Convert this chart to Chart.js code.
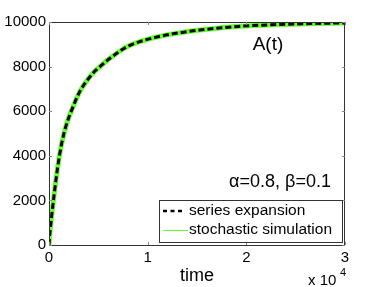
<!DOCTYPE html>
<html>
<head>
<meta charset="utf-8">
<script src="https://cdn.jsdelivr.net/npm/chart.js@4"></script>
<style>
  html, body { margin: 0; padding: 0; background: #fff; }
  #wrap { width: 381px; height: 287px; }
</style>
</head>
<body>
<div id="wrap"><canvas id="myChart" width="381" height="287"></canvas></div>
<script>
// time in units of 1e4
const timeVals = [0, 0.005, 0.012, 0.027, 0.053, 0.088, 0.128, 0.179, 0.23, 0.314, 0.398, 0.466, 0.517, 0.585, 0.635, 0.72, 0.804, 0.92, 1.125, 1.33, 1.53, 1.70, 1.94, 2.27, 2.61, 3.0];
// A(t)
const seriesVals = [0, 320, 650, 1300, 2300, 3490, 4540, 5440, 6050, 6900, 7450, 7800, 8000, 8260, 8430, 8700, 8920, 9120, 9360, 9520, 9640, 9720, 9810, 9880, 9925, 9960];
const stochVals = [0, 320, 650, 1300, 2300, 3490, 4540, 5440, 6050, 6900, 7450, 7800, 8000, 8260, 8430, 8700, 8920, 9120, 9360, 9520, 9640, 9720, 9810, 9880, 9925, 9960];
const xTicks = [0, 1, 2, 3];
const yTicks = [0, 2000, 4000, 6000, 8000, 10000];
const legendLabels = ["series expansion", "stochastic simulation"];

const FONT = "'Liberation Sans', Arial, sans-serif";

const toPoints = (xs, ys) => xs.map((x, i) => ({ x: x, y: ys[i] }));

// box, inward ticks, legend and text labels (matlab look)
const extras = {
  id: "extras",
  afterDraw(chart) {
    const ctx = chart.ctx;
    const a = chart.chartArea;
    const xs = chart.scales.x, ys = chart.scales.y;
    ctx.save();
    ctx.strokeStyle = "#333";
    ctx.lineWidth = 1;
    ctx.strokeRect(a.left + 0.5, a.top + 0.5, a.right - a.left - 1, a.bottom - a.top);
    ctx.strokeStyle = "#888";
    xTicks.forEach(t => {
      const px = Math.round(xs.getPixelForValue(t)) + 0.5;
      ctx.beginPath();
      ctx.moveTo(px, a.bottom); ctx.lineTo(px, a.bottom - 3);
      ctx.moveTo(px, a.top); ctx.lineTo(px, a.top + 3);
      ctx.stroke();
    });
    yTicks.forEach(t => {
      const py = Math.round(ys.getPixelForValue(t)) + 0.5;
      ctx.beginPath();
      ctx.moveTo(a.left, py); ctx.lineTo(a.left + 3, py);
      ctx.moveTo(a.right, py); ctx.lineTo(a.right - 3, py);
      ctx.stroke();
    });

    // annotations
    ctx.fillStyle = "#000";
    ctx.textBaseline = "middle";
    ctx.textAlign = "center";
    ctx.font = "19px " + FONT;
    ctx.fillText("A(t)", 268, 45);
    ctx.font = "18px " + FONT;
    ctx.fillText("\u03b1=0.8, \u03b2=0.1", 280, 182);

    // exponent label
    ctx.textAlign = "left";
    ctx.font = "15px " + FONT;
    ctx.fillText("x 10", 308, 281);
    ctx.font = "11px " + FONT;
    ctx.fillText("4", 340, 273);

    // legend
    const lx = 159, ly = 200, lw = 183, lh = 42;
    ctx.fillStyle = "#fff";
    ctx.fillRect(lx, ly, lw, lh);
    ctx.strokeStyle = "#333";
    ctx.strokeRect(lx + 0.5, ly + 0.5, lw, lh);
    ctx.font = "15.5px " + FONT;
    ctx.fillStyle = "#000";
    ctx.strokeStyle = "#000";
    ctx.lineWidth = 2.5;
    ctx.setLineDash([4, 3.5]);
    ctx.beginPath(); ctx.moveTo(163, 211); ctx.lineTo(185, 211); ctx.stroke();
    ctx.setLineDash([]);
    ctx.strokeStyle = "#66ff33";
    ctx.lineWidth = 1;
    ctx.beginPath(); ctx.moveTo(163, 230.5); ctx.lineTo(188, 230.5); ctx.stroke();
    ctx.fillText(legendLabels[0], 189, 211);
    ctx.fillText(legendLabels[1], 189, 230);
    ctx.restore();
  }
};

const ctx = document.getElementById("myChart").getContext("2d");
const chart = new Chart(ctx, {
  type: "line",
  data: {
    datasets: [
      {
        label: legendLabels[1],
        data: toPoints(timeVals, stochVals),
        borderColor: "#66ff33",
        borderWidth: 5,
        pointRadius: 0,
        cubicInterpolationMode: "monotone",
        order: 2
      },
      {
        label: legendLabels[0],
        data: toPoints(timeVals, seriesVals),
        borderColor: "#000",
        borderWidth: 3,
        borderDash: [6, 3],
        pointRadius: 0,
        cubicInterpolationMode: "monotone",
        order: 1
      }
    ]
  },
  options: {
    responsive: false,
    animation: false,
    layout: { padding: { top: 22, right: 36, left: 0, bottom: 0 } },
    plugins: { legend: { display: false }, tooltip: { enabled: false } },
    scales: {
      x: {
        type: "linear",
        min: 0, max: 3,
        grid: { display: false, drawTicks: false },
        border: { display: false },
        afterBuildTicks: s => { s.ticks = xTicks.map(v => ({ value: v })); },
        ticks: { color: "#000", font: { family: FONT, size: 15 }, padding: 4, maxRotation: 0, callback: v => String(v) },
        title: { display: true, text: "time", color: "#000", font: { family: FONT, size: 18 }, padding: { top: 2, bottom: 0 } },
        afterFit: s => { s.height = 42; }
      },
      y: {
        min: 0, max: 10000,
        grid: { display: false, drawTicks: false },
        border: { display: false },
        afterBuildTicks: s => { s.ticks = yTicks.map(v => ({ value: v })); },
        ticks: { color: "#000", font: { family: FONT, size: 15 }, padding: 3, callback: v => String(v) },
        afterFit: s => { s.width = 49; }
      }
    }
  },
  plugins: [extras]
});
</script>
</body>
</html>
